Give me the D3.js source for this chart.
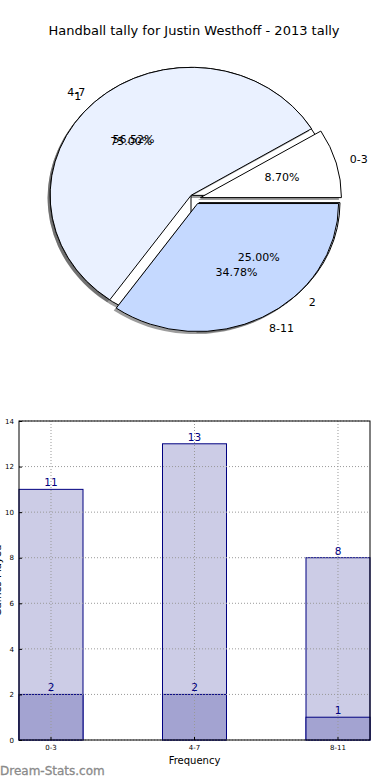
<!DOCTYPE html>
<html><head><meta charset="utf-8">
<script src="https://cdn.jsdelivr.net/npm/d3@7"></script>
<style>body{margin:0;background:#fff}svg{display:block}</style>
</head><body>
<svg id="c" width="390" height="780"></svg>
<script>
const title = "Handball tally for Justin Westhoff - 2013 tally";
const pieLabels = ["0-3", "4-7", "8-11"];
const pieValues = [2, 13, 8];
const pieColors = ["#ffffff", "#eaf1ff", "#c5d9ff"];
const pie2Labels = ["1", "2"];
const pie2Values = [3, 1];
const pie2Colors = ["#ffffff", "#eaf1ff"];
const barCats = ["0-3", "4-7", "8-11"];
const barTotal = [11, 13, 8];
const barSub = [2, 2, 1];
const yTicks = [0, 2, 4, 6, 8, 10, 12, 14];
const xLabel = "Frequency";
const yLabel = "Games Played";

const svg = d3.select("#c");
const font = "DejaVu Sans, sans-serif";

svg.append("text").attr("x", 194).attr("y", 35).attr("text-anchor", "middle")
  .attr("font-family", font).attr("font-size", 13).attr("fill", "#000").text(title);

// ---- Pie (ellipse) ----
const cx = 195, cy = 199, rx = 141, ry = 128, explode = 0.04;
function drawPie(values, labels, colors) {
  const total = d3.sum(values);
  let acc = 0;
  const wedges = values.map((v, i) => {
    const a0 = acc / total * 2 * Math.PI; acc += v;
    const a1 = acc / total * 2 * Math.PI;
    const mid = (a0 + a1) / 2;
    return {v, i, a0, a1, mid, label: labels[i], color: colors[i],
      ox: cx + explode * rx * Math.cos(mid), oy: cy - explode * ry * Math.sin(mid)};
  });
  const arc = d3.arc().innerRadius(0).outerRadius(1);
  const g = svg.append("g");
  wedges.forEach(w => {
    g.append("path")
      .attr("transform", `translate(${w.ox - 2.5},${w.oy + 2.5}) scale(${rx},${ry})`)
      .attr("d", arc({startAngle: Math.PI / 2 - w.a0, endAngle: Math.PI / 2 - w.a1}))
      .attr("fill", "#4d4d4d").attr("fill-opacity", 0.55).attr("stroke", "none");
  });
  wedges.forEach(w => {
    g.append("path")
      .attr("transform", `translate(${w.ox},${w.oy}) scale(${rx},${ry})`)
      .attr("d", arc({startAngle: Math.PI / 2 - w.a0, endAngle: Math.PI / 2 - w.a1}))
      .attr("fill", w.color).attr("stroke", "#000").attr("stroke-width", 1)
      .attr("vector-effect", "non-scaling-stroke").attr("stroke-linejoin", "miter");
  });
  return wedges;
}
function drawPieText(wedges, total) {
  wedges.forEach(w => {
    const lx = w.ox + 1.1 * rx * Math.cos(w.mid), ly = w.oy - 1.1 * ry * Math.sin(w.mid);
    svg.append("text").attr("x", lx).attr("y", ly).attr("dy", "0.35em")
      .attr("text-anchor", lx > w.ox ? "start" : "end")
      .attr("font-family", font).attr("font-size", 11).text(w.label);
    const px = w.ox + 0.6 * rx * Math.cos(w.mid), py = w.oy - 0.6 * ry * Math.sin(w.mid);
    svg.append("text").attr("x", px).attr("y", py).attr("dy", "0.35em")
      .attr("text-anchor", "middle").attr("font-family", font).attr("font-size", 11)
      .text((w.v / total * 100).toFixed(2) + "%");
  });
}
const w2 = drawPie(pie2Values, pie2Labels, pie2Colors);
const w1 = drawPie(pieValues, pieLabels, pieColors);
drawPieText(w1, d3.sum(pieValues));
drawPieText(w2, d3.sum(pie2Values));

// ---- Bar chart ----
const L = 19, R = 370, T = 421, B = 740;
const x = d3.scaleBand().domain(barCats).range([L, R]).paddingInner(0.554).paddingOuter(0);
const y = d3.scaleLinear().domain([0, 14]).range([B, T]);
const gb = svg.append("g");
gb.selectAll(".bt").data(barTotal).join("rect")
  .attr("x", (d, i) => x(barCats[i])).attr("width", x.bandwidth())
  .attr("y", d => y(d)).attr("height", d => B - y(d))
  .attr("fill", "#ccccE6").attr("stroke", "#000080").attr("stroke-width", 1);
gb.selectAll(".bs").data(barSub).join("rect")
  .attr("x", (d, i) => x(barCats[i])).attr("width", x.bandwidth())
  .attr("y", d => y(d)).attr("height", d => B - y(d))
  .attr("fill", "#a3a3d1").attr("stroke", "#000080").attr("stroke-width", 1);
const grid = svg.append("g").attr("stroke", "#999").attr("stroke-width", 1).attr("stroke-dasharray", "1,2");
yTicks.forEach(t => grid.append("line").attr("x1", L).attr("x2", R).attr("y1", y(t)).attr("y2", y(t)));
barCats.forEach(c => grid.append("line").attr("x1", x(c) + x.bandwidth() / 2).attr("x2", x(c) + x.bandwidth() / 2).attr("y1", T).attr("y2", B));
[barTotal, barSub].forEach(arr => {
  svg.append("g").selectAll("text").data(arr).join("text")
    .attr("x", (d, i) => x(barCats[i]) + x.bandwidth() / 2).attr("y", d => y(d) - 3)
    .attr("text-anchor", "middle").attr("font-family", font).attr("font-size", 10.5)
    .attr("fill", "#000080").text(d => d);
});
svg.append("rect").attr("x", L).attr("y", T).attr("width", R - L).attr("height", B - T)
  .attr("fill", "none").attr("stroke", "#000").attr("stroke-width", 1);
const ya = svg.append("g").attr("transform", `translate(${L},0)`)
  .call(d3.axisLeft(y).tickValues(yTicks).tickSize(-3).tickPadding(5));
ya.select(".domain").remove();
ya.selectAll("text").attr("font-family", font).attr("font-size", 7);
ya.selectAll("line").attr("stroke", "#000");
const xa = svg.append("g").attr("transform", `translate(0,${B})`)
  .call(d3.axisBottom(x).tickSize(-3).tickPadding(5));
xa.select(".domain").remove();
xa.selectAll("text").attr("font-family", font).attr("font-size", 7);
xa.selectAll("line").attr("stroke", "#000");
svg.append("text").attr("x", (L + R) / 2).attr("y", 764).attr("text-anchor", "middle")
  .attr("font-family", font).attr("font-size", 10).text(xLabel);
svg.append("text").attr("transform", `translate(1,${(T + B) / 2}) rotate(-90)`)
  .attr("text-anchor", "middle").attr("font-family", font).attr("font-size", 10).text(yLabel);
svg.append("text").attr("x", 0).attr("y", 775).attr("font-family", font).attr("font-size", 12)
  .attr("fill", "#8a8a8a").attr("stroke", "#8a8a8a").attr("stroke-width", 0.3).text("Dream-Stats.com");
</script>
</body></html>
